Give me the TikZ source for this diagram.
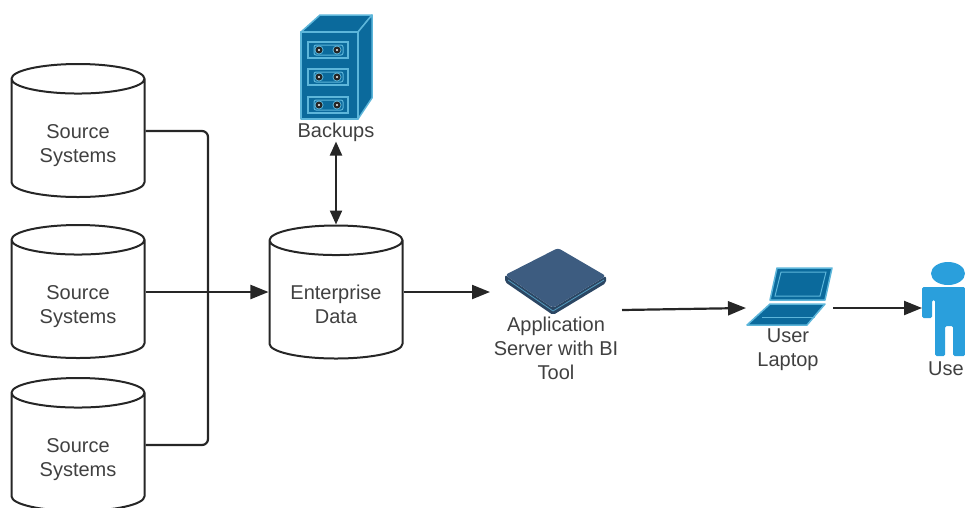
\documentclass[tikz,border=0pt]{standalone}
\usepackage{fontspec}
\setmainfont{Liberation Sans}
\usetikzlibrary{arrows,arrows.meta,positioning,shapes.geometric}
\definecolor{ink}{HTML}{404040}
\definecolor{cab}{HTML}{0B6A9C}
\definecolor{cabedge}{HTML}{5DB6DA}
\definecolor{slab}{HTML}{3D5C80}
\definecolor{slabside}{HTML}{2B4663}
\definecolor{person}{HTML}{2A9FDC}
\tikzstyle{store}=[cylinder,shape border rotate=90,draw=black!85,line width=2pt,aspect=0.41,text width=72pt,minimum width=133pt,minimum height=133pt,inner sep=0pt,anchor=shape center]
\tikzstyle{lbl}=[align=center,text=ink,inner sep=0pt,font=\fontsize{20}{24}\selectfont]
\tikzstyle{icon}=[fill=cab,draw=cabedge,line width=1.5pt,line join=round]
\tikzstyle{link}=[line width=2.2pt,black!85]
\tikzstyle{tip}=[-{Triangle[length=18pt,width=14pt]}]
\begin{document}
\begin{tikzpicture}[x=1pt,y=-1pt]
\useasboundingbox (0,0) rectangle (965,507);
\node[store] (S1) at (78,130.5) {};
\node[store] (S2) at (78,291.5) {};
\node[store] (S3) at (78,444.5) {};
\node[store] (E) at (336,292) {};
\node[lbl] (T1) at (78,146) {Source\\Systems};
\node[lbl] (T2) at (78,307) {Source\\Systems};
\node[lbl] (T3) at (78,460) {Source\\Systems};
\node[lbl] (T4) at (336,304) {Enterprise\\Data};
\node[lbl] (B) at (336,132) {Backups};
\node[lbl] (A) at (556,348) {Application\\Server with BI\\Tool};
\node[lbl] (L) at (788,350) {User\\Laptop};
\node[lbl,anchor=west] (U) at (928,369) {Use};
% free ends at the icons
\coordinate (Ain) at (490,292);
\coordinate (Aout) at (622,310);
\coordinate (Lin) at (746,308);
\coordinate (Lout) at (833,308);
\coordinate (Uin) at (922,308);
\coordinate (J) at (208,292);
% backups cabinet
\draw[icon] (301,32) -- (320,15) -- (372,15) -- (358,32) -- cycle;
\draw[icon] (358,32) -- (372,15) -- (372,98) -- (358,119) -- cycle;
\draw[icon] (301,32) rectangle (358,119);
\foreach \y in {50,77,105} {
\draw[cabedge,line width=1.5pt] (308,\y-8) rectangle (348,\y+8);
\draw[cabedge,line width=1pt,rounded corners=2pt] (314,\y-5) rectangle (343,\y+5);
\fill[cabedge] (319,\y) circle (4.5pt) (337,\y) circle (4.5pt);
\fill[black!85] (319,\y) circle (3.5pt) (337,\y) circle (3.5pt);
\fill[white] (319,\y) circle (1.2pt) (337,\y) circle (1.2pt);
}
% server
\fill[slabside,rounded corners=2pt] (505,275) -- (505,282) -- (553,315) -- (606,283) -- (606,276) -- (553,308) -- cycle;
\fill[slab,rounded corners=3pt] (558,248) -- (606,276) -- (553,308) -- (505,275) -- cycle;
\draw[cabedge!70!slab,line width=0.8pt] (508,280) -- (553,311) -- (604,280);
% laptop
\draw[icon] (777,268) -- (832,268) -- (825,300) -- (770,300) -- cycle;
\draw[cabedge,line width=1pt] (781,272) -- (826,272) -- (820,296) -- (775,296) -- cycle;
\draw[icon] (770,304) -- (825,304) -- (807,325) -- (747,325) -- cycle;
\draw[cabedge,line width=0.8pt] (762,317) -- (815,317);
% person
\fill[person] (948,273.5) ellipse (17pt and 11.5pt);
\fill[person,rounded corners=1.5pt] (922,287) -- (965,287) -- (965,356) -- (953,356) -- (953,326) -- (945,326) -- (945,356) -- (935,356) -- (935,300) -- (932,300) -- (932,318) -- (922,318) -- cycle;
% connectors
\draw[link,rounded corners=6pt] (S1.east |- 0,131) -- (208,131) -- (J);
\draw[link,rounded corners=6pt] (S3.east |- 0,445) -- (208,445) -- (J);
\path[link,tip]
(S2.east |- J) edge (E.west |- J)
(E.east |- J) edge (Ain)
(Aout) edge (Lin)
(Lout) edge (Uin);
\draw[link,{Triangle[length=14pt,width=12pt]}-{Triangle[length=14pt,width=12pt]}] (B) -- (E);
\end{tikzpicture}
\end{document}
